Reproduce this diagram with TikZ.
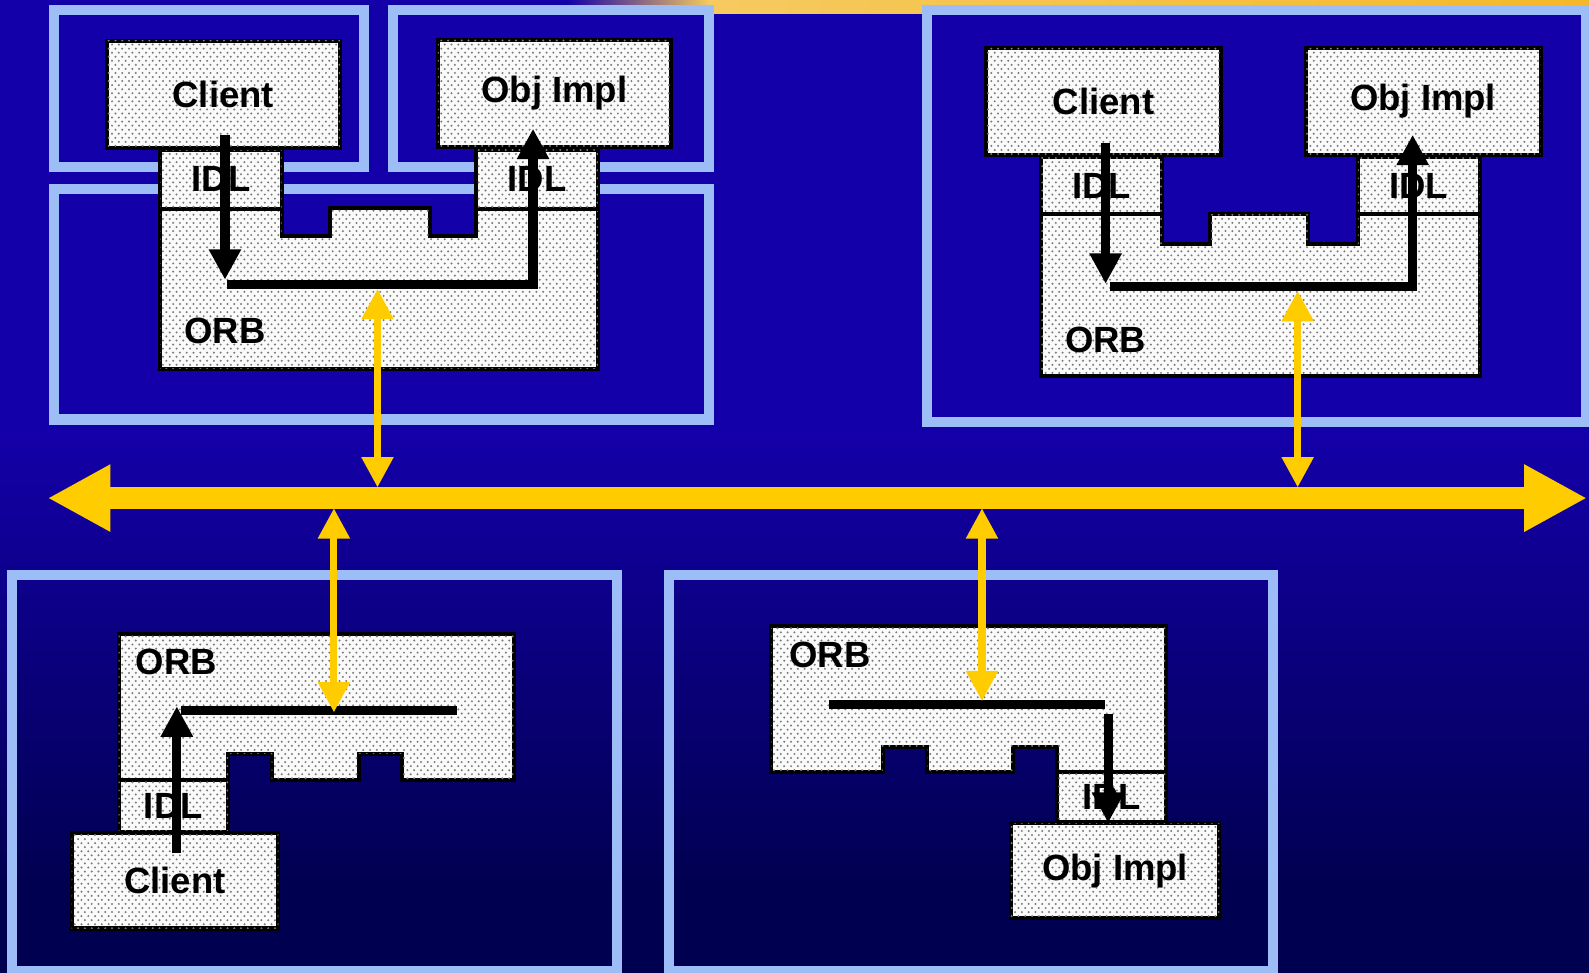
\documentclass[tikz,border=0pt]{standalone}
\usepackage{fontspec}
\setmainfont{Liberation Sans}
\usetikzlibrary{arrows.meta, patterns}
\definecolor{BgTop}{HTML}{1400A8}
\definecolor{BgBot}{HTML}{000050}
\definecolor{Frame}{HTML}{9DBDF7}
\definecolor{Bus}{HTML}{FFCC00}
\definecolor{Paper}{HTML}{FAFAFA}
\definecolor{Grain}{HTML}{7A7A7A}
\definecolor{Sun}{HTML}{F4B82A}
% versetzte Punkte wie im Original-Raster
\pgfdeclarepatternformonly{grain}{\pgfqpoint{-1pt}{-1pt}}{\pgfqpoint{4.35pt}{5pt}}{\pgfqpoint{3.35pt}{4pt}}{
    \pgfpathcircle{\pgfqpoint{0pt}{0pt}}{.55pt}
    \pgfpathcircle{\pgfqpoint{1.675pt}{2pt}}{.55pt}
    \pgfusepath{fill}
}
\tikzset{
    hostframe/.style={draw=Frame, line width=5pt},
    dotbox/.style={rectangle, draw=black, line width=2pt, fill=Paper, postaction={pattern=grain, pattern color=Grain}, inner sep=0pt, outer sep=0pt, font=\fontsize{18}{20}\selectfont\bfseries},
    orbshape/.style={draw=black, line width=2pt, fill=Paper, postaction={pattern=grain, pattern color=Grain}},
    lbl/.style={font=\fontsize{18}{20}\selectfont\bfseries, inner sep=0pt},
    callline/.style={line width=4.5pt, black},
    callarrow/.style={callline, -{Triangle[width=15pt,length=15pt]}},
    linkarrow/.style={{Triangle[width=15pt,length=15pt]}-{Triangle[width=15pt,length=15pt]}, line width=3.5pt, color=Bus},
    busarrow/.style={{Triangle[width=31pt,length=31pt]}-{Triangle[width=31pt,length=31pt]}, line width=10.5pt, color=Bus},
}

\begin{document}
\begin{tikzpicture}[x=0.5pt, y=-0.5pt]
    \useasboundingbox (0,0) rectangle (1568,960);

    % Hintergrund
    \fill[BgTop] (0,0) rectangle (1568,431);
    \shade[top color=BgTop, bottom color=BgBot] (0,430) rectangle (1568,874);
    \fill[BgBot] (0,873) rectangle (1568,960);
    \shade[left color=BgTop, right color=Sun!75!white] (560,0) rectangle (700,13);
    \shade[left color=Sun!75!white, right color=Sun] (699,0) rectangle (1568,13);

    % Rechner-Rahmen
    \draw[hostframe] (53.7,10) rectangle (359.5,165);
    \draw[hostframe] (388,10) rectangle (700,165);
    \draw[hostframe] (53.7,186.5) rectangle (700,414);
    \draw[hostframe] (915,10) rectangle (1565.5,416);
    \draw[hostframe] (11.7,567.7) rectangle (608.5,958);
    \draw[hostframe] (660.5,567.7) rectangle (1256.5,958);

    % Bus
    \coordinate (busW) at (47,491.5);
    \coordinate (busE) at (1566,491.5);
    \draw[busarrow] (busW) -- (busE);

    % Oben links: Client und Obj Impl
    \draw[orbshape] (158,205.5) -- (278,205.5) -- (278,233) -- (326,233) -- (326,205.5) -- (424,205.5) -- (424,233) -- (470,233) -- (470,205.5) -- (590,205.5) -- (590,364) -- (158,364) -- cycle;
    \node[lbl] (orbA) at (222,327) {ORB};
    \node[dotbox, minimum width=60pt, minimum height=29pt] (idlA) at (218,177) {IDL};
    \node[dotbox, minimum width=60pt, minimum height=29pt] (idlB) at (530,177) {IDL};
    \node[dotbox, minimum width=115pt, minimum height=53pt] (cliA) at (220.3,93) {Client};
    \node[dotbox, minimum width=115pt, minimum height=53pt] (objA) at (547,92) {Obj Impl};
    \coordinate (a1) at (222,133);
    \coordinate (a2) at (222,276);
    \coordinate (b1) at (224,281);
    \coordinate (b2) at (526,281);
    \coordinate (b3) at (526,127);
    \draw[callarrow] (a1) -- (a2);
    \draw[callarrow] (b1) -- (b2) -- (b3);
    \coordinate (tlOrb) at (372.5,285);
    \coordinate (tlBus) at (372.5,481);
    \draw[linkarrow] (tlOrb) -- (tlBus);

    % Oben rechts: Client und Obj Impl
    \draw[orbshape] (1027,211) -- (1147,211) -- (1147,241) -- (1194,241) -- (1194,211) -- (1291,211) -- (1291,241) -- (1340,241) -- (1340,211) -- (1460,211) -- (1460,371) -- (1027,371) -- cycle;
    \node[lbl] (orbC) at (1091,335.5) {ORB};
    \node[dotbox, minimum width=60pt, minimum height=28pt] (idlC) at (1087,183) {IDL};
    \node[dotbox, minimum width=60pt, minimum height=28pt] (idlD) at (1400,183) {IDL};
    \node[dotbox, minimum width=116pt, minimum height=53pt] (cliC) at (1089,100.2) {Client};
    \node[dotbox, minimum width=116pt, minimum height=53pt] (objD) at (1404.3,100.2) {Obj Impl};
    \coordinate (c1) at (1091,141);
    \coordinate (c2) at (1091,280);
    \coordinate (d1) at (1095,282.5);
    \coordinate (d2) at (1394,282.5);
    \coordinate (d3) at (1394,133);
    \draw[callarrow] (c1) -- (c2);
    \draw[callarrow] (d1) -- (d2) -- (d3);
    \coordinate (trOrb) at (1280.5,287);
    \coordinate (trBus) at (1280.5,481);
    \draw[linkarrow] (trOrb) -- (trBus);

    % Unten links: nur Client
    \draw[orbshape] (117,626) -- (507,626) -- (507,770) -- (397,770) -- (397,744) -- (354,744) -- (354,770) -- (268,770) -- (268,744) -- (225,744) -- (225,770) -- (117,770) -- cycle;
    \node[lbl] (orbE) at (174,653) {ORB};
    \node[dotbox, minimum width=54pt, minimum height=25.5pt] (idlE) at (171,795.5) {IDL};
    \node[dotbox, minimum width=102pt, minimum height=47pt] (cliE) at (172.7,869.2) {Client};
    \coordinate (e1) at (174.5,842);
    \coordinate (e2) at (174.5,697);
    \coordinate (f1) at (179,701.5);
    \coordinate (f2) at (451,701.5);
    \draw[callarrow] (e1) -- (e2);
    \draw[callline] (f1) -- (f2);
    \coordinate (blBus) at (329.5,501.5);
    \coordinate (blOrb) at (329.5,703);
    \draw[linkarrow] (blBus) -- (blOrb);

    % Unten rechts: nur Obj Impl
    \draw[orbshape] (761,618) -- (1151,618) -- (1151,762) -- (1043,762) -- (1043,737) -- (1000,737) -- (1000,762) -- (915,762) -- (915,737) -- (871,737) -- (871,762) -- (761,762) -- cycle;
    \node[lbl] (orbF) at (819,646) {ORB};
    \node[dotbox, minimum width=54pt, minimum height=24.5pt] (idlF) at (1097,786.5) {IDL};
    \node[dotbox, minimum width=103pt, minimum height=47pt] (objF) at (1100.3,859.3) {Obj Impl};
    \coordinate (g1) at (818.5,695.5);
    \coordinate (g2) at (1090,695.5);
    \coordinate (h1) at (1093.5,704.5);
    \coordinate (h2) at (1093.5,812);
    \draw[callline] (g1) -- (g2);
    \draw[callarrow] (h1) -- (h2);
    \coordinate (brBus) at (969,501.5);
    \coordinate (brOrb) at (969,692);
    \draw[linkarrow] (brBus) -- (brOrb);

\end{tikzpicture}
\end{document}
